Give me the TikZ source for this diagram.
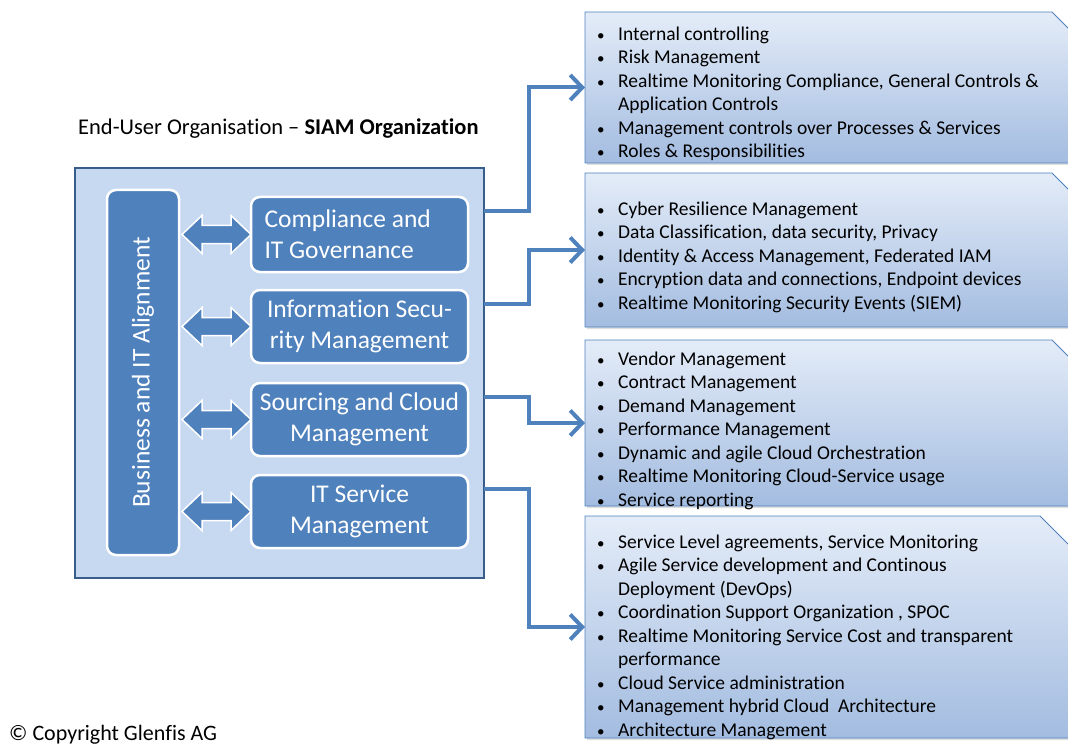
\documentclass[tikz,border=0pt]{standalone}
\usepackage{fontspec}
\setmainfont{Carlito}[Ligatures=NoCommon]
\usetikzlibrary{calc,arrows.meta,shadows}
\definecolor{accent}{HTML}{4F81BD}
\definecolor{orgfill}{HTML}{C6D9F1}
\definecolor{orgline}{HTML}{385D8A}
\definecolor{calltop}{HTML}{E4ECF8}
\definecolor{callbot}{HTML}{A3BCE0}
\newcommand{\itm}{\makebox[22pt][l]{\hspace*{1pt}\fontsize{15}{15}\selectfont•}}
\newcommand{\cnt}{\hspace*{22pt}}
\tikzset{
  orgbox/.style={draw=orgline, line width=2pt, fill=orgfill, minimum width=409pt, minimum height=410pt, inner sep=0pt, outer sep=0pt},
  bluebox/.style={draw=white, line width=2.5pt, fill=accent, rounded corners=9pt, text=white, font=\fontsize{25.5}{31}\selectfont, inner sep=0pt, outer sep=0pt},
  callnode/.style={rectangle, minimum width=497pt, inner sep=0pt, outer sep=0pt},
  callshape/.style={draw=accent, line width=0.8pt, top color=calltop, bottom color=callbot, drop shadow={opacity=0.25, shadow xshift=2pt, shadow yshift=-2pt}},
  calltext/.style={anchor=north west, align=left, inner sep=0pt, font=\fontsize{19.5}{23.5}\selectfont, text=black},
  conn/.style={draw=accent, line width=4pt, -{Straight Barb[length=12pt,width=25pt]}},
  dblarrow/.style={fill=accent, draw=white, line width=1.5pt},
  plain/.style={inner sep=0pt}
}
\begin{document}
\begin{tikzpicture}[x=1pt,y=-1pt]
\useasboundingbox (0,0) rectangle (1068,746);

% callout boxes
\node[callnode, minimum height=151pt] (c1) at (833.5,87.5) {};
\node[callnode, minimum height=154pt] (c2) at (833.5,250) {};
\node[callnode, minimum height=166pt] (c3) at (833.5,423) {};
\node[callnode, minimum height=222pt] (c4) at (833.5,627) {};
\foreach \c/\s in {c1/30,c2/30,c3/30,c4/42}{
  \path[callshape] (\c.south west) -- (\c.north west) -- ([xshift=-\s pt]\c.north east) -- ([yshift=-\s pt]\c.north east) -- (\c.south east) -- cycle;
}

\node[calltext] (t1) at ([xshift=11pt,yshift=-11.5pt]c1.north west) {\strut\itm Internal controlling\\
\itm Risk Management\\
\itm Realtime Monitoring Compliance, General Controls \&\\
\cnt Application Controls\\
\itm Management controls over Processes \& Services\\
\itm Roles \& Responsibilities};

\node[calltext] (t2) at ([xshift=11pt,yshift=-25.5pt]c2.north west) {\strut\itm Cyber Resilience Management\\
\itm Data Classification, data security, Privacy\\
\itm Identity \& Access Management, Federated IAM\\
\itm Encryption data and connections, Endpoint devices\\
\itm Realtime Monitoring Security Events (SIEM)};

\node[calltext] (t3) at ([xshift=11pt,yshift=-8.5pt]c3.north west) {\strut\itm Vendor Management\\
\itm Contract Management\\
\itm Demand Management\\
\itm Performance Management\\
\itm Dynamic and agile Cloud Orchestration\\
\itm Realtime Monitoring Cloud-Service usage\\
\itm Service reporting};

\node[calltext] (t4) at ([xshift=11pt,yshift=-15.5pt]c4.north west) {\strut\itm Service Level agreements, Service Monitoring\\
\itm Agile Service development and Continous\\
\cnt Deployment (DevOps)\\
\itm Coordination Support Organization , SPOC\\
\itm Realtime Monitoring Service Cost and transparent\\
\cnt performance\\
\itm Cloud Service administration\\
\itm Management hybrid Cloud~ Architecture\\
\itm Architecture Management};

% organisation
\node[plain, anchor=base west, font=\fontsize{22.5}{27}\selectfont] (title) at (78,135) {End-User Organisation – \textbf{SIAM Organization}};
\node[orgbox] (org) at (279.5,373) {};
\node[bluebox, minimum width=72pt, minimum height=365pt] (bar) at (143,372.5) {\rotatebox{90}{Business and IT Alignment}};
\node[bluebox, minimum width=217pt, minimum height=75pt, text width=190pt, align=flush left] (cg) at (359.5,234.5) {Compliance and\\IT Governance};
\node[bluebox, minimum width=217pt, minimum height=73pt, align=center] (is) at (359.5,326.5) {Information Secu-\\rity Management};
\node[bluebox, minimum width=217pt, minimum height=73pt, align=center] (sc) at (359.5,419.5) {Sourcing and Cloud\\Management};
\node[bluebox, minimum width=217pt, minimum height=73pt, align=center] (sm) at (359.5,511.5) {IT Service\\Management};

% double arrows
\foreach \b in {cg,is,sc,sm}{
  \path (bar.east |- \b.west) coordinate (L);
  \draw[dblarrow] ($(L)+(3,0)$) -- ++(20,-19) -- ++(0,10) -- ++(29,0) -- ++(0,-10) -- ++(20,19) -- ++(-20,19) -- ++(0,-10) -- ++(-29,0) -- ++(0,10) -- cycle;
}

% connectors
\draw[conn] ([yshift=23pt]cg.east -| org.east) -- ++(45,0) |- (c1.west);
\draw[conn] ([yshift=23pt]is.east -| org.east) -- ++(45,0) |- (c2.west);
\draw[conn] ([yshift=23pt]sc.east -| org.east) -- ++(45,0) |- (c3.west);
\draw[conn] ([yshift=23pt]sm.east -| org.east) -- ++(45,0) |- (c4.west);

\node[plain, anchor=base west, font=\fontsize{22}{26}\selectfont] (copy) at (9,740) {© Copyright Glenfis AG};
\end{tikzpicture}
\end{document}
